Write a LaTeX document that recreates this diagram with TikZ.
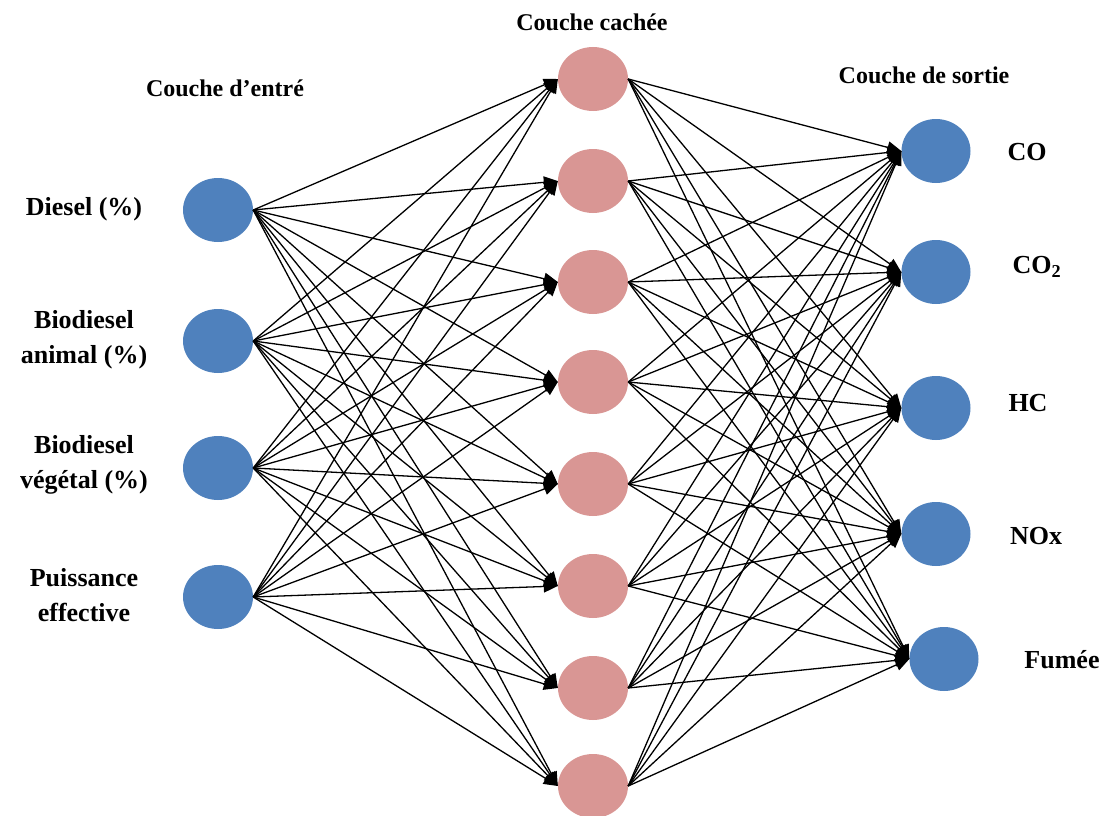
\documentclass[tikz,border=0pt]{standalone}
\usepackage{fontspec}
\setmainfont{Liberation Serif}
\usetikzlibrary{arrows.meta,shapes}
\definecolor{nodeblue}{RGB}{79,129,189}
\definecolor{nodepink}{RGB}{217,150,148}
\tikzstyle{vertex}=[ellipse,minimum width=70pt,minimum height=64pt,inner sep=0pt]
\tikzstyle{edge} = [draw,line width=1.3pt,-{Triangle[length=14pt,width=12pt]}]
\tikzstyle{layer} = [font=\bfseries\fontsize{24}{28}\selectfont]
\tikzstyle{tag} = [font=\bfseries\fontsize{26}{35}\selectfont,align=center]

\begin{document}
\begin{tikzpicture}[x=1pt,y=-1pt]
    \useasboundingbox (0,0) rectangle (1101,816);
    % First we draw the vertices of the three layers
    \foreach \pos/\name in {{(218,210)/i1}, {(218,341)/i2}, {(218,468)/i3}, {(218,597)/i4}}
        \node[vertex, fill=nodeblue] (\name) at \pos {};
    \foreach \y/\name in {79/h1, 181/h2, 282/h3, 382/h4, 484/h5, 586/h6, 688/h7, 786/h8}
        \node[vertex, fill=nodepink] (\name) at (593,\y) {};
    \foreach \pos/\name in {{(936,151)/o1}, {(936,272)/o2}, {(936,408)/o3}, {(936,534)/o4}, {(944,659)/o5}}
        \node[vertex, fill=nodeblue, minimum width=69pt] (\name) at \pos {};

    % Connect every vertex to every vertex of the next layer
    \foreach \s in {1,...,4}
        \foreach \d in {1,...,8}
            \path[edge] (i\s.east) -- (h\d.west);
    \foreach \s in {1,...,8}
        \foreach \d in {1,...,5}
            \path[edge] (h\s.east) -- (o\d.west);

    % Layer titles
    \node[layer] (tin) at (225,88) {Couche d’entré};
    \node[layer] (thid) at (592,22) {Couche cachée};
    \node[layer] (tout) at (924,75) {Couche de sortie};

    % Inputs and outputs
    \node[tag] (ldiesel) at (84,209) {Diesel (\%)};
    \node[tag] (lanimal) at (84,340) {Biodiesel\\animal (\%)};
    \node[tag] (lvegetal) at (84,465) {Biodiesel\\végétal (\%)};
    \node[tag] (lpuiss) at (84,595) {Puissance\\effective};

    \node[tag] (lco) at (1027,152) {CO};
    \node[tag] (lco2) at (1037,267) {CO\textsubscript{2}};
    \node[tag] (lhc) at (1028,403) {HC};
    \node[tag] (lnox) at (1036,536) {NOx};
    \node[tag] (lfumee) at (1062,660) {Fumée};
\end{tikzpicture}
\end{document}
